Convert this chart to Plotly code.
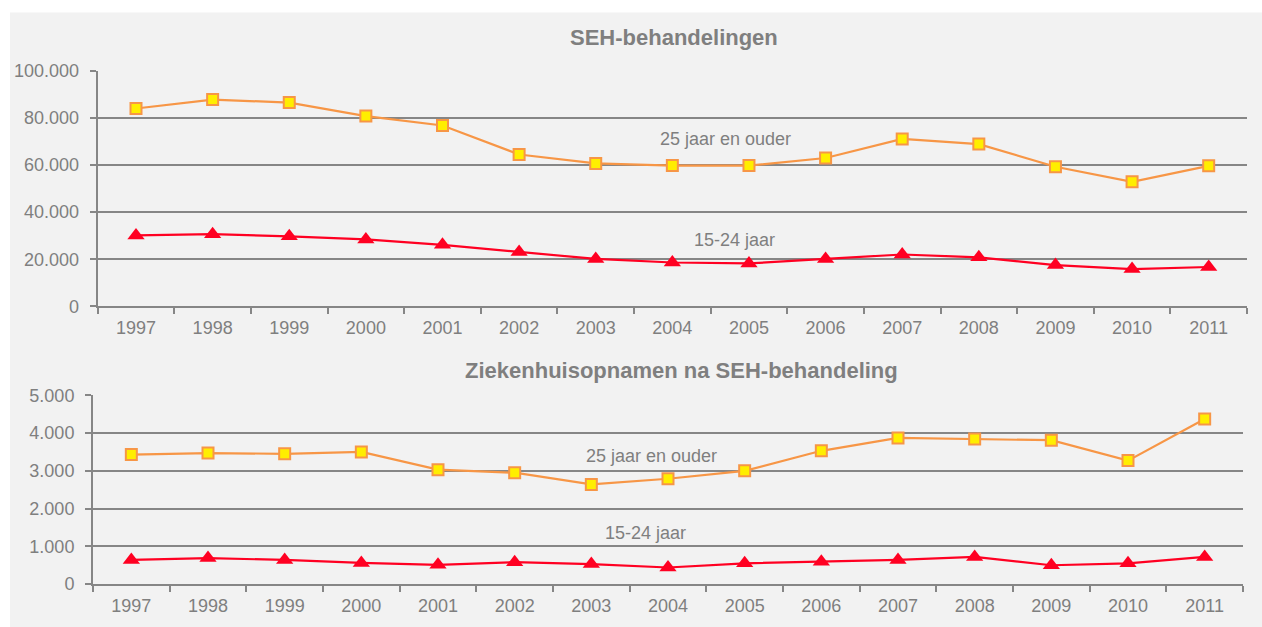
import plotly.graph_objects as go

years = [str(y) for y in range(1997, 2012)]

# SEH-behandelingen
seh_25plus = [83900, 87700, 86400, 80700, 76700, 64400, 60600, 59700, 59700, 62900, 71000, 68800, 59200, 52800, 59600]
seh_15_24 = [30100, 30600, 29700, 28400, 26100, 23000, 20100, 18600, 18200, 20100, 22000, 20800, 17500, 15800, 16700]

# Ziekenhuisopnamen na SEH-behandeling
opn_25plus = [3430, 3470, 3450, 3500, 3030, 2950, 2640, 2790, 3000, 3530, 3870, 3840, 3810, 3270, 4370]
opn_15_24 = [640, 690, 640, 560, 510, 580, 530, 440, 550, 590, 640, 720, 500, 550, 720]

W, H = 1262, 660
TXT = "#7f7f7f"
GRID = "#868686"
ORANGE = "#F79646"
YELLOW = "#FFEE00"
RED = "#FF0022"
FONT = "Liberation Sans, Arial, sans-serif"

def px(x):
    return x / W

def py(y):
    # vertical calibration for the capture (observed offset/scale)
    fy = (y - 9.4) / 0.9705
    return 1 - fy / H

fig = go.Figure()

def add_series(xa, ya, y25, y15):
    fig.add_trace(go.Scatter(
        x=years, y=y25, xaxis=xa, yaxis=ya, mode="lines+markers",
        line=dict(color=ORANGE, width=2.2),
        marker=dict(symbol="square", size=11, color=YELLOW, line=dict(color=ORANGE, width=2)),
        showlegend=False, hoverinfo="x+y"))
    fig.add_trace(go.Scatter(
        x=years, y=y15, xaxis=xa, yaxis=ya, mode="lines+markers",
        line=dict(color=RED, width=2.2),
        marker=dict(symbol="triangle-up", size=15, color=RED, line=dict(color=RED, width=0)),
        showlegend=False, hoverinfo="x+y"))

add_series("x", "y", seh_25plus, seh_15_24)
add_series("x2", "y2", opn_25plus, opn_15_24)

xaxis_common = dict(
    type="category", range=[-0.5, 14.5], tickson="boundaries",
    ticks="outside", ticklen=6, tickwidth=1.5, tickcolor=GRID,
    showline=True, linecolor=GRID, linewidth=2, showgrid=False,
    tickfont=dict(family=FONT, size=18, color=TXT), zeroline=False, fixedrange=True,
    ticklabelstandoff=4,
)
yaxis_common = dict(
    ticks="outside", ticklen=6, tickwidth=1.5, tickcolor=GRID,
    showline=True, linecolor=GRID, linewidth=2,
    showgrid=True, gridcolor=GRID, gridwidth=1.5,
    tickfont=dict(family=FONT, size=18, color=TXT), zeroline=False,
    tickformat=",d", fixedrange=True, ticklabelstandoff=7,
)

fig.update_layout(
    width=W, height=H,
    margin=dict(l=0, r=0, t=0, b=0),
    paper_bgcolor="white", plot_bgcolor="rgba(0,0,0,0)",
    separators=",.",
    xaxis=dict(xaxis_common, domain=[px(97.7), px(1247)], anchor="y"),
    yaxis=dict(yaxis_common, domain=[py(306), py(70)], range=[0, 100000], dtick=20000, anchor="x"),
    xaxis2=dict(xaxis_common, domain=[px(93), px(1243)], anchor="y2"),
    yaxis2=dict(yaxis_common, domain=[py(584), py(395)], range=[0, 5000], dtick=1000, anchor="x2"),
    shapes=[dict(type="rect", xref="paper", yref="paper", x0=px(10), x1=1, y0=0, y1=py(12),
                 fillcolor="#f2f2f2", line=dict(width=0), layer="below")],
    annotations=[
        dict(text="<b>SEH-behandelingen</b>", xref="paper", yref="paper", x=px(674), y=py(37),
             xanchor="center", yanchor="middle",
             showarrow=False, font=dict(family=FONT, size=22, color=TXT)),
        dict(text="<b>Ziekenhuisopnamen na SEH-behandeling</b>", xref="paper", yref="paper", x=px(681), y=py(370),
             xanchor="center", yanchor="middle",
             showarrow=False, font=dict(family=FONT, size=22, color=TXT)),
        dict(text="25 jaar en ouder", xref="x", yref="y", x=7.70, y=70800,
             showarrow=False, font=dict(family=FONT, size=18, color=TXT)),
        dict(text="15-24 jaar", xref="x", yref="y", x=7.81, y=28000,
             showarrow=False, font=dict(family=FONT, size=18, color=TXT)),
        dict(text="25 jaar en ouder", xref="x2", yref="y2", x=6.78, y=3390,
             showarrow=False, font=dict(family=FONT, size=18, color=TXT)),
        dict(text="15-24 jaar", xref="x2", yref="y2", x=6.70, y=1350,
             showarrow=False, font=dict(family=FONT, size=18, color=TXT)),
    ],
)

post = (
    "document.documentElement.style.margin='0';"
    "document.body.style.margin='0';"
    "var d=document.getElementById('{plot_id}');"
    "d.style.position='fixed';d.style.top='0px';d.style.left='0px';"
)

fig.write_html("out.html", post_script=post, config={"displayModeBar": False})
